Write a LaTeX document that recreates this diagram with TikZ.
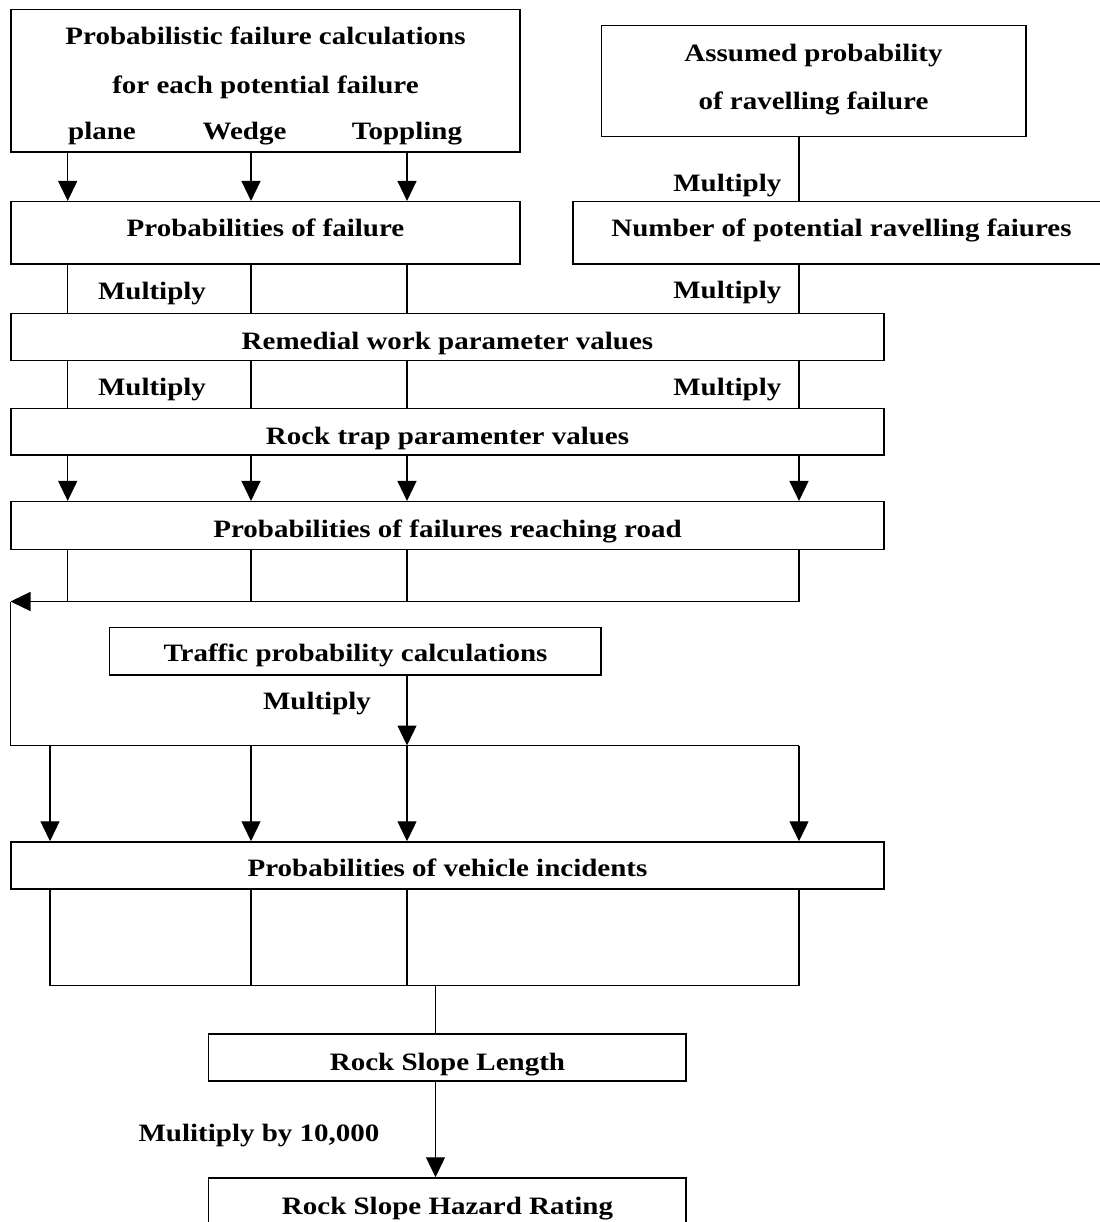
\documentclass[tikz,border=0pt]{standalone}
\usepackage{fontspec}
\setmainfont{Liberation Serif}[FakeStretch=1.16]
\usetikzlibrary{arrows.meta}
\begin{document}
\begin{tikzpicture}[x=1pt,y=-1pt,
  every node/.style={font=\fontsize{25}{30}\selectfont\bfseries},
  box/.style={draw,line width=1.5pt,rectangle,inner sep=0pt},
  txt/.style={inner sep=0pt,anchor=base},
  txe/.style={inner sep=0pt,anchor=base east},
  ln/.style={line width=1.3pt},
  arr/.style={line width=1.3pt,-{Triangle[length=20pt,width=19pt]}}]
\useasboundingbox (0,0) rectangle (1099,1222);
% column coordinates
\coordinate (xa) at (67.7,0);
\coordinate (xb) at (251,0);
\coordinate (xc) at (407,0);
\coordinate (xd) at (799,0);
\coordinate (xe) at (50,0);
\coordinate (xl) at (10.5,0);
\coordinate (xm) at (435.5,0);
% boxes
\node[box,minimum width=509pt,minimum height=142.7pt] (calc) at (265.5,80.65) {};
\node[box,minimum width=424.5pt,minimum height=111pt] (assumed) at (813.75,81.2) {};
\node[box,minimum width=509pt,minimum height=62.3pt] (pfail) at (265.5,232.85) {};
\node[box,minimum width=537pt,minimum height=62.3pt] (number) at (841.5,232.85) {};
\node[box,minimum width=873pt,minimum height=47pt] (remed) at (447.5,337) {};
\node[box,minimum width=873pt,minimum height=46.7pt] (trap) at (447.5,431.65) {};
\node[box,minimum width=873pt,minimum height=47.6pt] (reach) at (447.5,525.5) {};
\node[box,minimum width=491.4pt,minimum height=47.3pt] (traffic) at (355.3,651.35) {};
\node[box,minimum width=873pt,minimum height=47pt] (vehic) at (447.5,865.5) {};
\node[box,minimum width=477.5pt,minimum height=47pt] (rsl) at (447.25,1057.5) {};
\node[box,minimum width=477.5pt,minimum height=62pt] (rshr) at (447.25,1209) {};
% texts
\node[txt] (calct1) at (265.5,45) {Probabilistic failure calculations};
\node[txt] (calct2) at (265.5,93.3) {for each potential failure};
\node[txt] (plane) at (102,140) {plane};
\node[txt] (wedge) at (244.5,140) {Wedge};
\node[txt] (topp) at (407,140) {Toppling};
\node[txt] (assumedt1) at (813.5,61.7) {Assumed probability};
\node[txt] (assumedt2) at (813.5,109.3) {of ravelling failure};
\node[txt] (pfailt) at (265.5,236.7) {Probabilities of failure};
\node[txt] (numbert) at (841.5,236.7) {Number of potential ravelling faiures};
\node[txt] (remedt) at (447.5,349) {Remedial work parameter values};
\node[txt] (trapt) at (447.5,444) {Rock trap paramenter values};
\node[txt] (reacht) at (447.5,537) {Probabilities of failures reaching road};
\node[txt] (traffict) at (355.5,661.7) {Traffic probability calculations};
\node[txt] (vehict) at (447.5,876.7) {Probabilities of vehicle incidents};
\node[txt] (rslt) at (447.5,1070) {Rock Slope Length};
\node[txt] (rshrt) at (447.5,1214) {Rock Slope Hazard Rating};
% labels
\node[txe] (m1) at (781.5,191.7) {Multiply};
\node[txt] (m2) at (152,300) {Multiply};
\node[txe] (m3) at (781.5,298.3) {Multiply};
\node[txt] (m4) at (152,395) {Multiply};
\node[txe] (m5) at (781.5,395) {Multiply};
\node[txt] (m6) at (317,709) {Multiply};
\node[txt] (m7) at (259,1141.7) {Mulitiply by 10,000};
% row 1 -> 2
\foreach \c in {xa,xb,xc} \draw[arr] (calc.south -| \c) -- (pfail.north -| \c);
\draw[ln] (assumed.south -| xd) -- (number.north -| xd);
% row 2 -> remedial
\foreach \c in {xa,xb,xc} \draw[ln] (pfail.south -| \c) -- (remed.north -| \c);
\draw[ln] (number.south -| xd) -- (remed.north -| xd);
% remedial -> trap
\foreach \c in {xa,xb,xc,xd} \draw[ln] (remed.south -| \c) -- (trap.north -| \c);
% trap -> reach
\foreach \c in {xa,xb,xc,xd} \draw[arr] (trap.south -| \c) -- (reach.north -| \c);
% reach -> loop
\coordinate (busA) at (0,601.5);
\coordinate (busB) at (0,745.5);
\coordinate (busC) at (0,985.5);
\foreach \c in {xa,xb,xc} \draw[ln] (reach.south -| \c) -- (busA -| \c);
\draw[arr] (reach.south -| xd) -- (busA -| xd) -- (busA -| xl);
\draw[ln] (busA -| xl) -- (busB -| xl) -- (busB -| xd);
\draw[arr] (traffic.south -| xc) -- (busB -| xc);
\foreach \c in {xe,xb,xc,xd} \draw[arr] (busB -| \c) -- (vehic.north -| \c);
% vehic -> bottom
\foreach \c in {xb,xc} \draw[ln] (vehic.south -| \c) -- (busC -| \c);
\draw[ln] (vehic.south -| xe) -- (busC -| xe) -- (busC -| xd) -- (vehic.south -| xd);
\draw[ln] (busC -| xm) -- (rsl.north -| xm);
\draw[arr] (rsl.south -| xm) -- (rshr.north -| xm);
\end{tikzpicture}
\end{document}
